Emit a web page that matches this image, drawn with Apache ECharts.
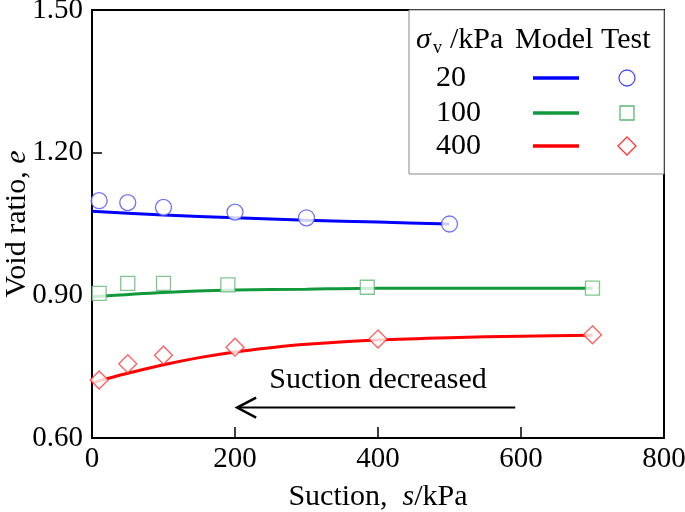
<!DOCTYPE html>
<html><head><meta charset="utf-8">
<script src="https://cdn.jsdelivr.net/npm/echarts@6/dist/echarts.min.js"></script>
<style>html,body{margin:0;padding:0;background:#fff}#c{width:685px;height:512px}</style>
</head><body><div id="c"></div>
<script>
const xTicks = [0, 200, 400, 600, 800];
const yTicks = [0.60, 0.90, 1.20, 1.50];
const sigmaLabels = ['20', '100', '400'];

const testS20 = [10, 50, 100, 200, 300, 500];
const testE20 = [1.099, 1.095, 1.085, 1.075, 1.063, 1.050];
const testS100 = [10, 50, 100, 190, 385, 700];
const testE100 = [0.904, 0.925, 0.925, 0.922, 0.917, 0.915];
const testS400 = [10, 50, 100, 200, 400, 700];
const testE400 = [0.722, 0.756, 0.774, 0.791, 0.808, 0.817];

const modelS20 = [0, 100, 200, 300, 400, 500];
const modelE20 = [1.077, 1.069, 1.063, 1.058, 1.054, 1.050];
const modelS100 = [0, 100, 200, 300, 400, 500, 600, 700];
const modelE100 = [0.897, 0.906, 0.911, 0.913, 0.915, 0.915, 0.915, 0.915];
const modelS400 = [0, 50, 100, 150, 200, 250, 300, 400, 500, 600, 700];
const modelE400 = [0.716, 0.736, 0.754, 0.769, 0.781, 0.790, 0.797, 0.806, 0.811, 0.814, 0.816];

const zip = (a, b) => a.map((v, i) => [v, b[i]]);
const FONT = 'Liberation Serif, Times New Roman, serif';
const FS = 29;
const FL = 30;
const lineCols = ['#0000ff', '#12993c', '#ff0000'];
const markCols = ['#4d4dff', '#5cb870', '#ff3333'];

const chart = echarts.init(document.getElementById('c'), null, {renderer: 'canvas'});

function lineSeries(s, e, i) {
  return {type: 'line', data: zip(s, e), smooth: 0.3, symbol: 'none', z: 2,
    lineStyle: {color: lineCols[i], width: 3}};
}
function scatterSeries(s, e, i, sym, size) {
  return {type: 'scatter', data: zip(s, e), symbol: sym, symbolSize: size, z: 3,
    itemStyle: {color: '#fff', borderColor: markCols[i], borderWidth: 1.3}};
}

const option = {
  animation: false,
  grid: {left: 92, right: 21, top: 10, bottom: 74, containLabel: false, outerBoundsMode: 'none',
    show: true, borderColor: '#000', borderWidth: 2},
  xAxis: {
    type: 'value', min: xTicks[0], max: xTicks[xTicks.length - 1], interval: 200,
    axisLine: {lineStyle: {color: '#000', width: 2}},
    axisTick: {inside: true, length: 11, lineStyle: {color: '#000', width: 1.5}},
    axisLabel: {fontFamily: FONT, fontSize: FS, color: '#000', margin: 7},
    splitLine: {show: false},
    name: '{n|Suction,  }{i|s}{n|/kPa}', nameLocation: 'middle', nameGap: 44, nameMoveOverlap: false,
    nameTextStyle: {rich: {n: {fontFamily: FONT, fontSize: FL, color: '#000'},
      i: {fontFamily: FONT, fontSize: FL, fontStyle: 'italic', color: '#000'}}}
  },
  yAxis: {
    type: 'value', min: yTicks[0], max: yTicks[yTicks.length - 1], interval: 0.3,
    axisLine: {lineStyle: {color: '#000', width: 2}},
    axisTick: {inside: true, length: 10, lineStyle: {color: '#000', width: 1.5}},
    axisLabel: {fontFamily: FONT, fontSize: FS, color: '#000', margin: 9,
      formatter: v => v.toFixed(2)},
    splitLine: {show: false},
    name: '{n|Void ratio, }{i|e}', nameLocation: 'middle', nameGap: 60, nameMoveOverlap: false,
    nameTextStyle: {rich: {n: {fontFamily: FONT, fontSize: FL, color: '#000'},
      i: {fontFamily: FONT, fontSize: FL, fontStyle: 'italic', color: '#000'}}}
  },
  series: [
    lineSeries(modelS20, modelE20, 0),
    lineSeries(modelS100, modelE100, 1),
    lineSeries(modelS400, modelE400, 2),
    scatterSeries(testS20, testE20, 0, 'circle', 16),
    scatterSeries(testS100, testE100, 1, 'rect', 14),
    scatterSeries(testS400, testE400, 2, 'diamond', 18)
  ]
};
chart.setOption(option);

// annotation + legend table
const p1 = chart.convertToPixel({gridIndex: 0}, [592, 0.664]);
const p2 = chart.convertToPixel({gridIndex: 0}, [203, 0.664]);
const pt = chart.convertToPixel({gridIndex: 0}, [400, 0.722]);
const txt = (x, y, t, opts) => Object.assign({type: 'text', x: x, y: y, z: 10,
  style: Object.assign({text: t, fontFamily: FONT, fontSize: FL, fill: '#000', textVerticalAlign: 'middle'}, opts || {})});

const rowsY = [78, 113, 146];
const legendEls = [
  {type: 'rect', shape: {x: 409, y: 10, width: 255, height: 164}, z: 9,
    style: {fill: '#fff', stroke: '#888', lineWidth: 1}},
  txt(416, 40, 'σ', {fontStyle: 'italic'}),
  txt(433, 48, 'v', {fontSize: 18}),
  txt(450, 40, '/kPa'),
  txt(515, 40, 'Model'),
  txt(601, 40, 'Test')
];
const symSize = [16, 14, 18];
sigmaLabels.forEach((s, i) => {
  legendEls.push(txt(436, rowsY[i], s));
  legendEls.push({type: 'line', z: 10, shape: {x1: 533, y1: rowsY[i], x2: 579, y2: rowsY[i]},
    style: {stroke: lineCols[i], lineWidth: 3.5}});
  const sz = symSize[i];
  if (i === 0) legendEls.push({type: 'circle', z: 10, shape: {cx: 627, cy: rowsY[i], r: sz / 2},
    style: {fill: '#fff', stroke: markCols[i], lineWidth: 1.3}});
  else if (i === 1) legendEls.push({type: 'rect', z: 10, shape: {x: 627 - sz / 2, y: rowsY[i] - sz / 2, width: sz, height: sz},
    style: {fill: '#fff', stroke: markCols[i], lineWidth: 1.3}});
  else legendEls.push({type: 'polygon', z: 10, shape: {points: [[627, rowsY[i] - sz / 2], [627 + sz / 2, rowsY[i]], [627, rowsY[i] + sz / 2], [627 - sz / 2, rowsY[i]]]},
    style: {fill: '#fff', stroke: markCols[i], lineWidth: 1.3}});
});

chart.setOption({graphic: [
  ...legendEls,
  {type: 'line', z: 10, shape: {x1: p1[0], y1: p1[1], x2: p2[0] + 2, y2: p2[1]},
    style: {stroke: '#000', lineWidth: 2}},
  {type: 'polyline', z: 10, shape: {points: [[p2[0] + 19, p2[1] - 10], [p2[0], p2[1]], [p2[0] + 19, p2[1] + 10]]},
    style: {stroke: '#000', lineWidth: 2.5, fill: null}},
  txt(pt[0], pt[1], 'Suction decreased', {textAlign: 'center'})
]});
</script></body></html>
